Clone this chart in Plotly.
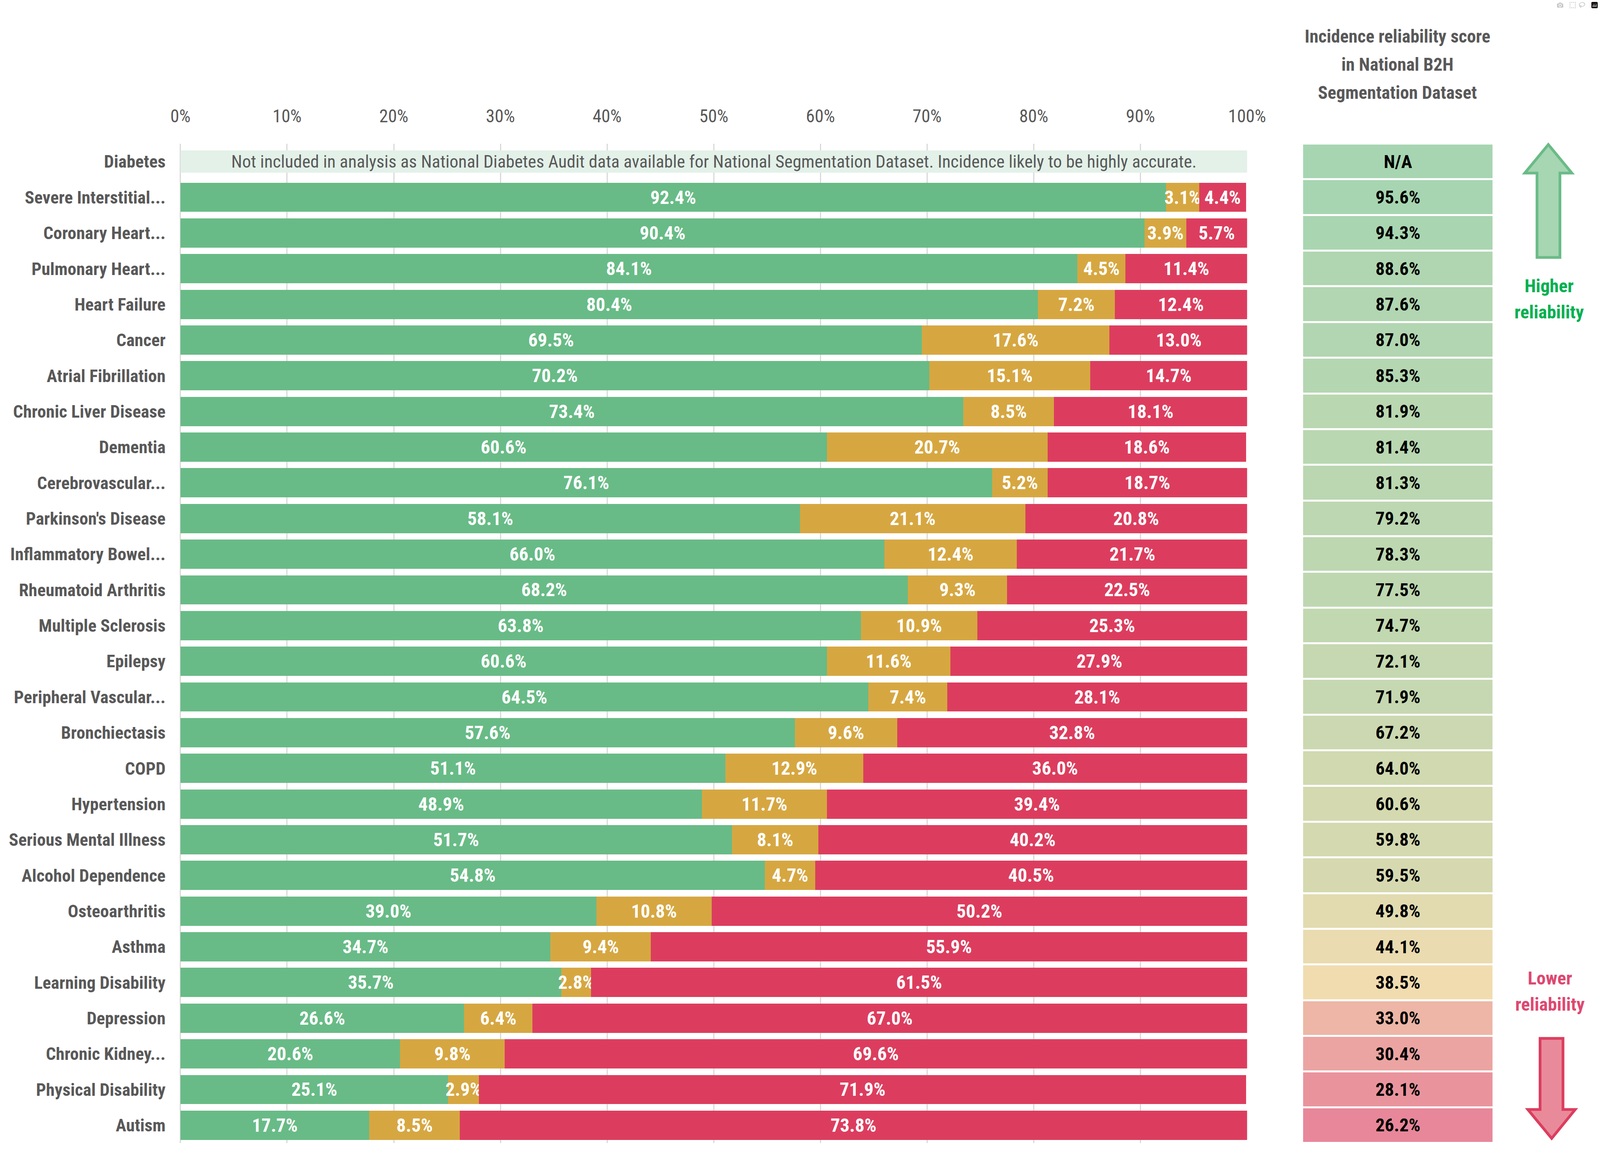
import plotly.graph_objects as go

# ---------------- data ----------------
categories = [
    "Diabetes", "Severe Interstitial...", "Coronary Heart...", "Pulmonary Heart...",
    "Heart Failure", "Cancer", "Atrial Fibrillation", "Chronic Liver Disease",
    "Dementia", "Cerebrovascular...", "Parkinson's Disease", "Inflammatory Bowel...",
    "Rheumatoid Arthritis", "Multiple Sclerosis", "Epilepsy", "Peripheral Vascular...",
    "Bronchiectasis", "COPD", "Hypertension", "Serious Mental Illness",
    "Alcohol Dependence", "Osteoarthritis", "Asthma", "Learning Disability",
    "Depression", "Chronic Kidney...", "Physical Disability", "Autism",
]
green_vals = [None, 92.4, 90.4, 84.1, 80.4, 69.5, 70.2, 73.4, 60.6, 76.1, 58.1, 66.0, 68.2,
              63.8, 60.6, 64.5, 57.6, 51.1, 48.9, 51.7, 54.8, 39.0, 34.7, 35.7, 26.6, 20.6,
              25.1, 17.7]
amber_vals = [None, 3.1, 3.9, 4.5, 7.2, 17.6, 15.1, 8.5, 20.7, 5.2, 21.1, 12.4, 9.3,
              10.9, 11.6, 7.4, 9.6, 12.9, 11.7, 8.1, 4.7, 10.8, 9.4, 2.8, 6.4, 9.8,
              2.9, 8.5]
red_vals = [None, 4.4, 5.7, 11.4, 12.4, 13.0, 14.7, 18.1, 18.6, 18.7, 20.8, 21.7, 22.5,
            25.3, 27.9, 28.1, 32.8, 36.0, 39.4, 40.2, 40.5, 50.2, 55.9, 61.5, 67.0, 69.6,
            71.9, 73.8]
scores = [None, 95.6, 94.3, 88.6, 87.6, 87.0, 85.3, 81.9, 81.4, 81.3, 79.2, 78.3, 77.5,
          74.7, 72.1, 71.9, 67.2, 64.0, 60.6, 59.8, 59.5, 49.8, 44.1, 38.5, 33.0, 30.4,
          28.1, 26.2]
excluded_category = "Diabetes"
excluded_note = ("Not included in analysis as National Diabetes Audit data available for "
                 "National Segmentation Dataset. Incidence likely to be highly accurate.")
x_tickvals = [0, 10, 20, 30, 40, 50, 60, 70, 80, 90, 100]
x_ticktext = [f"{v}%" for v in x_tickvals]
header_lines = ["Incidence reliability score", "in National B2H", "Segmentation Dataset"]

# ---------------- styling ----------------
# positions are taken on the reference grid (5232 x 3000) and used as relative (paper)
# units; the browser viewport is 4096 px wide, so the figure is drawn at that width.
REF_W, REF_H = 5232, 3000
FIG_W, FIG_H = 4096, 3000
FONT = "Roboto Condensed, Noto Sans Condensed, Lato, sans-serif"
GREY = "#595959"
C_GREEN, C_AMBER, C_RED = "#68BB86", "#D6A741", "#DC3D5E"
S_LABEL, S_DATA, S_CELL, S_NOTE, S_TICK, S_HEAD = 45, 48, 47, 45, 46, 46


def px(x):
    return x / REF_W


def py(y):
    return 1 - y / REF_H


fig = go.Figure()


def fmt(v):
    return "" if v is None else f"{v:.1f}%"


for vals, col, name in [(green_vals, C_GREEN, "green"),
                        (amber_vals, C_AMBER, "amber"),
                        (red_vals, C_RED, "red")]:
    fig.add_trace(go.Bar(
        x=vals, y=categories, orientation="h", name=name,
        marker=dict(color=col, line=dict(width=0)),
        text=[fmt(v) for v in vals], textposition="inside",
        insidetextanchor="middle", textangle=0, constraintext="none",
        textfont=dict(family=FONT, size=S_DATA, color="white", weight="bold"),
        hoverinfo="skip",
    ))

# excluded row band
fig.add_trace(go.Bar(
    x=[100], y=[excluded_category], orientation="h", width=0.62,
    marker=dict(color="#E3F1E9", line=dict(width=0)), hoverinfo="skip",
))

# reliability score table (heatmap)
zmax = max(v for v in scores if v is not None)
zmin = min(v for v in scores if v is not None)
z_col = [[v if v is not None else zmax] for v in scores]
cell_text = [["N/A" if v is None else f"{v:.1f}%"] for v in scores]
mid = (38.5 - zmin) / (zmax - zmin)
fig.add_trace(go.Heatmap(
    x=["score"], y=categories, z=z_col, text=cell_text, texttemplate="%{text}",
    textfont=dict(family=FONT, size=S_CELL, color="black", weight="bold"),
    colorscale=[[0, "#E8879A"], [mid, "#F1DCB0"], [1, "#A7D5B1"]],
    zmin=zmin, zmax=zmax, showscale=False, ygap=5, xaxis="x2", yaxis="y",
    hoverinfo="skip",
))

annotations = [dict(
    x=50, y=excluded_category, xref="x", yref="y", text=excluded_note,
    showarrow=False, font=dict(family=FONT, size=S_NOTE, color=GREY),
)]
for ytxt, line in zip([93, 165, 237], header_lines):
    annotations.append(dict(x=px(4570), y=py(ytxt), xref="paper", yref="paper",
                            text=line, showarrow=False, xanchor="center", yanchor="middle",
                            font=dict(family=FONT, size=S_HEAD, color=GREY, weight="bold")))
for ytxt, line in zip([731, 799], ["Higher", "reliability"]):
    annotations.append(dict(x=px(5066), y=py(ytxt), xref="paper", yref="paper",
                            text=line, showarrow=False, xanchor="center", yanchor="middle",
                            font=dict(family=FONT, size=S_CELL, color="#00B050", weight="bold")))
for ytxt, line in zip([2503, 2570], ["Lower", "reliability"]):
    annotations.append(dict(x=px(5068), y=py(ytxt), xref="paper", yref="paper",
                            text=line, showarrow=False, xanchor="center", yanchor="middle",
                            font=dict(family=FONT, size=S_CELL, color="#DE4870", weight="bold")))


def path(points):
    return "M " + " L ".join(f"{px(a):.5f},{py(b):.5f}" for a, b in points) + " Z"


up_arrow = [(5063, 370), (5140, 443), (5101, 443), (5101, 659), (5026, 659),
            (5026, 443), (4986, 443)]
down_arrow = [(5036, 2658), (5111, 2658), (5111, 2840), (5151, 2840), (5074, 2914),
              (4996, 2840), (5036, 2840)]
shapes = [
    dict(type="path", xref="paper", yref="paper", path=path(up_arrow),
         fillcolor="#A6D6B2", line=dict(color="#6ABB87", width=7)),
    dict(type="path", xref="paper", yref="paper", path=path(down_arrow),
         fillcolor="#E98A9B", line=dict(color="#DC3D5E", width=7)),
]

fig.update_layout(
    width=FIG_W, height=FIG_H, margin=dict(l=0, r=0, t=0, b=0, pad=0),
    paper_bgcolor="white", plot_bgcolor="white",
    barmode="stack", bargap=0.18, showlegend=False,
    annotations=annotations, shapes=shapes,
    xaxis=dict(domain=[px(590), px(4078)], range=[0, 100], side="top",
               tickvals=x_tickvals, ticktext=x_ticktext,
               tickfont=dict(family=FONT, size=S_TICK, color=GREY),
               ticks="outside", ticklen=36, tickcolor="rgba(0,0,0,0)",
               showgrid=True, gridcolor="#D9D9D9", gridwidth=3,
               zeroline=True, zerolinecolor="#D9D9D9", zerolinewidth=3,
               showline=False, fixedrange=True, anchor="y", automargin=False),
    xaxis2=dict(domain=[px(4261), px(4881)], range=[-0.5, 0.5], visible=False,
                anchor="y", fixedrange=True, automargin=False),
    yaxis=dict(domain=[py(2926), py(368)], type="category",
               categoryorder="array", categoryarray=categories, autorange="reversed",
               tickfont=dict(family=FONT, size=S_LABEL, color=GREY, weight="bold"),
               ticks="outside", ticklen=28, tickcolor="rgba(0,0,0,0)",
               showgrid=False, zeroline=False, showline=False, fixedrange=True,
               automargin=False),
)

post = "document.body.style.margin='0';document.body.style.overflow='hidden';"
fig.write_html("out.html", post_script=post)
